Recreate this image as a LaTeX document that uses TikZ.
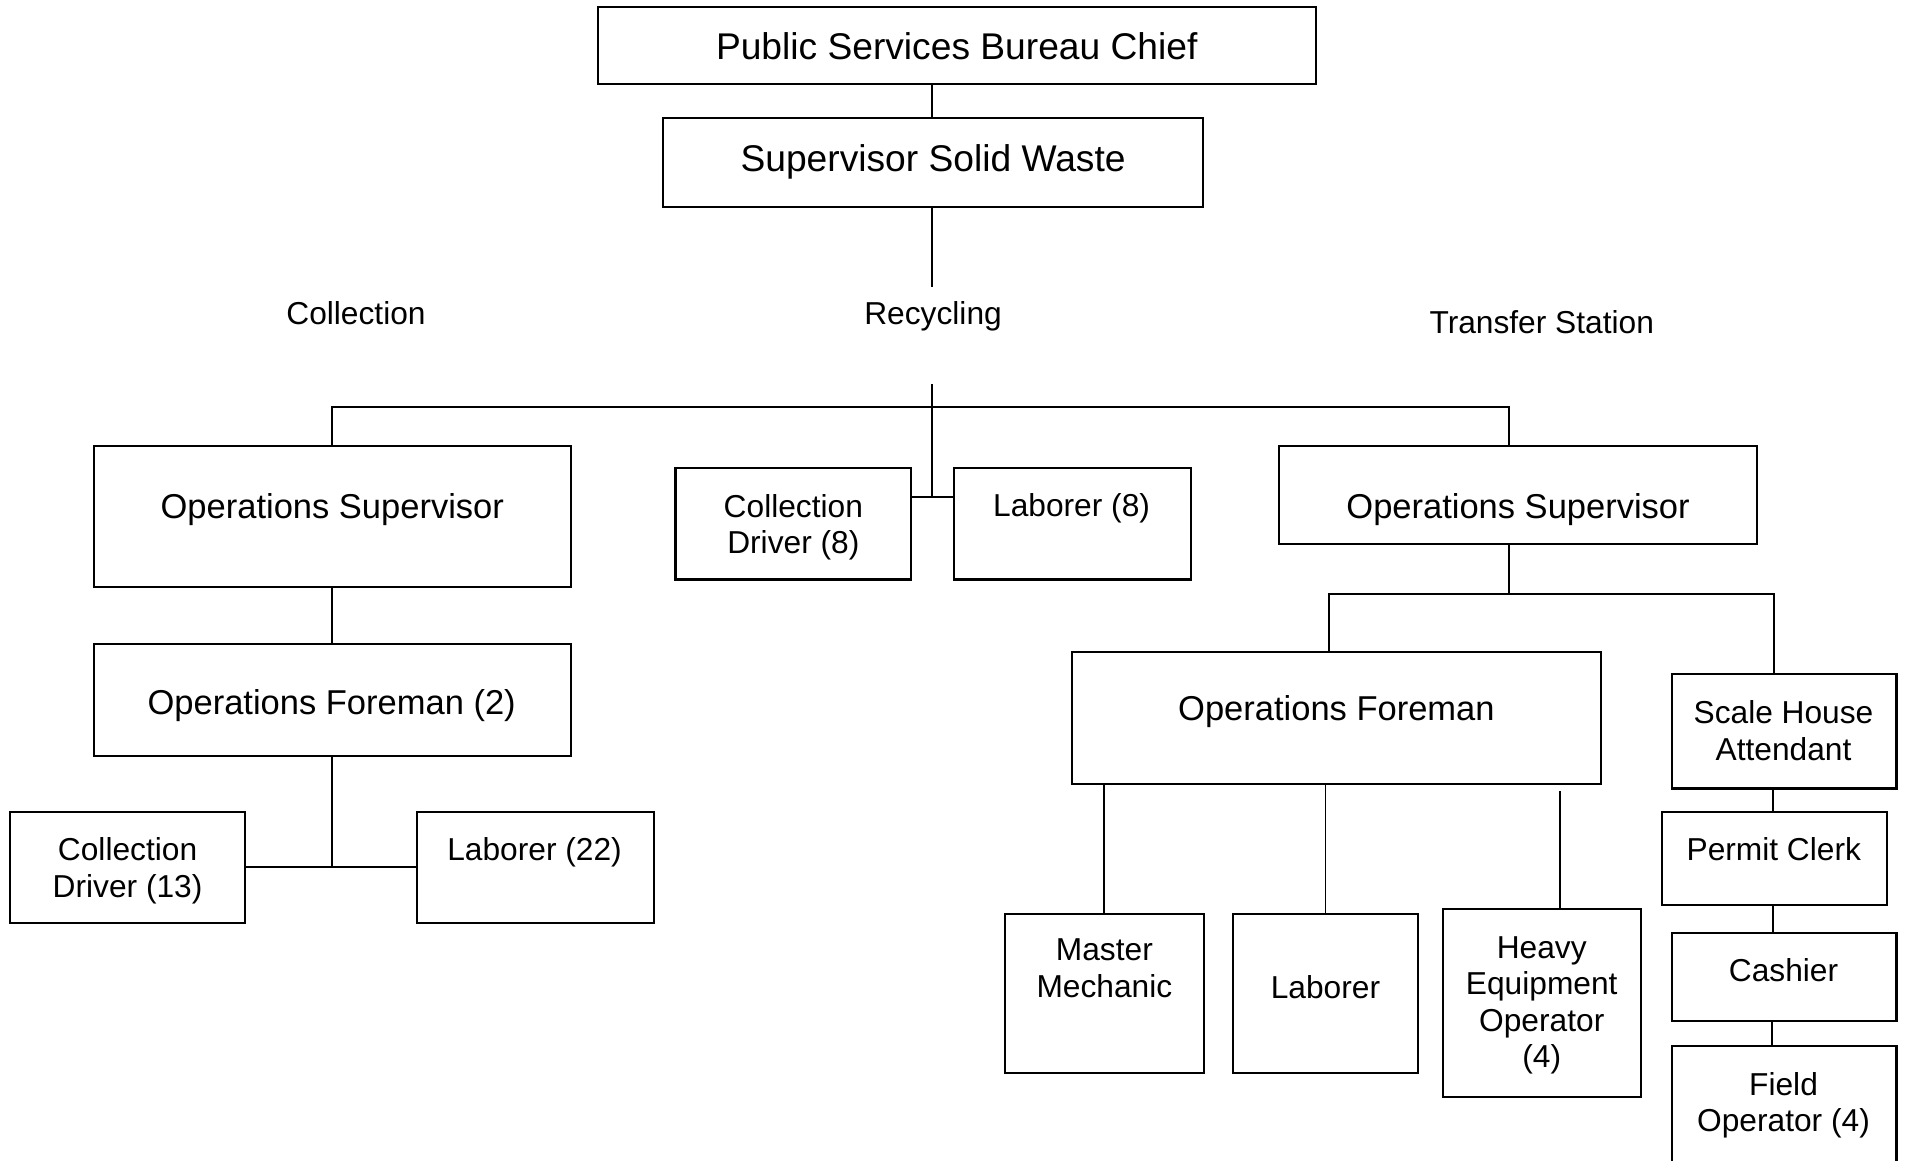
\documentclass[tikz,border=0pt]{standalone}
\usepackage{fontspec}
\setmainfont{Liberation Sans}
\begin{document}
\begin{tikzpicture}[x=1pt,y=-1pt,
  box/.style={draw,line width=1.7pt,inner sep=0pt},
  wire/.style={line width=1.6pt},
  big/.style={inner sep=0pt,anchor=base,font=\fontsize{30.6}{35}\selectfont},
  mid/.style={inner sep=0pt,anchor=base,font=\fontsize{28.4}{33}\selectfont},
  sml/.style={inner sep=0pt,anchor=base,font=\fontsize{26.1}{30}\selectfont},
  mline/.style={inner sep=0pt,anchor=north,align=center,font=\fontsize{26.1}{30}\selectfont}]
\clip (0,0) rectangle (1568,954.8);
\fill[white] (0,0) rectangle (1568,954.8);

% boxes
\node[box,minimum width=591pt,minimum height=63pt] (chief) at (787.5,37.5) {};
\node[box,minimum width=444pt,minimum height=73pt] (ssw) at (768,133.5) {};
\node[box,minimum width=393pt,minimum height=116pt] (osL) at (273.5,425) {};
\node[box,minimum width=393pt,minimum height=92pt] (ofL) at (273.5,576) {};
\node[box,minimum width=194pt,minimum height=92pt] (cd13) at (105,714) {};
\node[box,minimum width=195pt,minimum height=92pt] (lab22) at (440.5,714) {};
\node[box,minimum width=194pt,minimum height=92pt] (cd8) at (653,431) {};
\node[box,minimum width=195pt,minimum height=92pt] (lab8) at (882.5,431) {};
\node[box,minimum width=393pt,minimum height=81pt] (osR) at (1249.5,407.5) {};
\node[box,minimum width=436pt,minimum height=108pt] (ofR) at (1100,591) {};
\node[box,minimum width=164pt,minimum height=131pt] (mm) at (909,817.5) {};
\node[box,minimum width=152pt,minimum height=131pt] (labR) at (1091,817.5) {};
\node[box,minimum width=163pt,minimum height=155pt] (heo) at (1269.5,825.5) {};
\node[box,minimum width=185pt,minimum height=94pt] (sha) at (1468.5,602) {};
\node[box,minimum width=185pt,minimum height=77pt] (pc) at (1460.5,706.5) {};
\node[box,minimum width=185pt,minimum height=72pt] (cash) at (1468.5,804) {};
\node[box,minimum width=185pt,minimum height=114pt] (fo) at (1468.5,918) {};

% texts
\node[big] (chief-t) at (787.5,49) {Public Services Bureau Chief};
\node[big] (ssw-t) at (768,141) {Supervisor Solid Waste};
\node[mid] (osL-t) at (273.5,427) {Operations Supervisor};
\node[mid] (ofL-t) at (273,588) {Operations Foreman (2)};
\node[mline] (cd13-t) at (105,689.5) {Collection\\Driver (13)};
\node[sml] (lab22-t) at (440,708.5) {Laborer (22)};
\node[mline] (cd8-t) at (653,406.5) {Collection\\Driver (8)};
\node[sml] (lab8-t) at (882,425.5) {Laborer (8)};
\node[mid] (osR-t) at (1249.5,427) {Operations Supervisor};
\node[mid] (ofR-t) at (1100,593) {Operations Foreman};
\node[mline] (mm-t) at (909,772.5) {Master\\Mechanic};
\node[sml] (labR-t) at (1091,821.5) {Laborer};
\node[mline] (heo-t) at (1269,770.5) {Heavy\\Equipment\\Operator\\(4)};
\node[mline] (sha-t) at (1468,576.5) {Scale House\\Attendant};
\node[sml] (pc-t) at (1460,708.5) {Permit Clerk};
\node[sml] (cash-t) at (1468,807.5) {Cashier};
\node[mline] (fo-t) at (1468,882.5) {Field\\Operator (4)};

% section labels
\node[sml] (colLab) at (293,267.5) {Collection};
\node[sml] (recLab) at (768,267.5) {Recycling};
\node[sml] (trLab) at (1269,274.5) {Transfer Station};

% connector points
\coordinate (spine) at (767,0);
\coordinate (spineEnd) at (767,236);
\coordinate (spineTop) at (767,316);
\coordinate (bus) at (0,335);
\coordinate (busR) at (1242,335);
\coordinate (recJ) at (767,409);
\coordinate (busT) at (0,489);
\coordinate (dropA) at (1094,0);
\coordinate (dropB) at (1460,0);
\coordinate (heoTop) at (1284,651);
\coordinate (chainA) at (1459.5,0);
\coordinate (chainB) at (1458.5,0);

% connectors
\draw[wire] (chief.south -| spine) -- (ssw.north -| spine);
\draw[wire] (ssw.south -| spine) -- (spineEnd);
\draw[wire] (spineTop) -- (recJ);
\draw[wire] (osL.north) -- (osL.north |- bus) -- (busR) -- (osR.north -| busR);
\draw[wire] (cd8.east |- recJ) -- (lab8.west |- recJ);
\draw[wire] (osL.south) -- (ofL.north);
\draw[wire] (ofL.south) -- (ofL.south |- cd13.east);
\draw[wire] (cd13.east) -- (lab22.west);
\draw[wire] (osR.south -| busR) -- (busR |- busT);
\draw[wire] (ofR.north -| dropA) -- (dropA |- busT) -- (dropB |- busT) -- (sha.north -| dropB);
\draw[wire] (ofR.south -| mm.north) -- (mm.north);
\draw[wire] (ofR.south -| labR.north) -- (labR.north);
\draw[wire] (heoTop) -- (heo.north -| heoTop);
\draw[wire] (sha.south -| chainA) -- (pc.north -| chainA);
\draw[wire] (pc.south -| chainA) -- (cash.north -| chainA);
\draw[wire] (cash.south -| chainB) -- (fo.north -| chainB);
\end{tikzpicture}
\end{document}
